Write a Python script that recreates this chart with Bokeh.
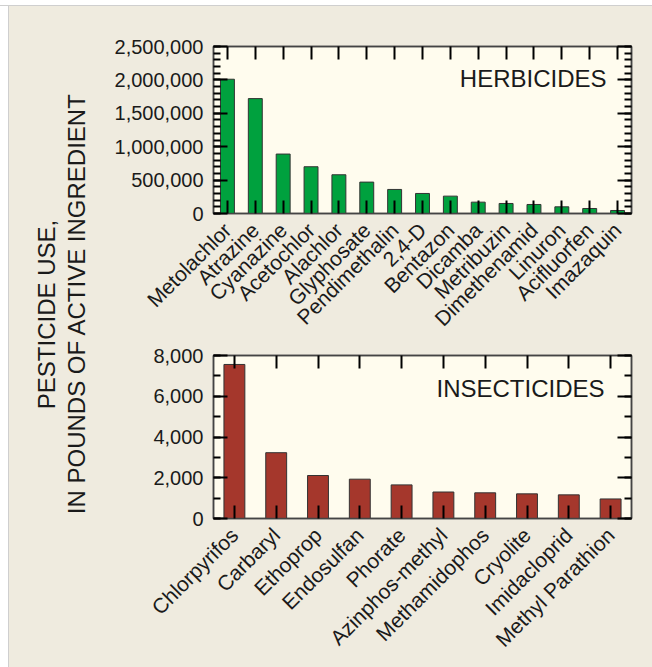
from math import pi
from bokeh.plotting import figure
from bokeh.models import (CategoricalAxis, LinearAxis, SingleIntervalTicker,
                          NumeralTickFormatter, Label, Range1d, FactorRange,
                          CustomJSTickFormatter, Spacer)
from bokeh.layouts import row, column
from bokeh.embed import file_html
from bokeh.resources import INLINE

# ---- data ----
herbicides = ["Metolachlor", "Atrazine", "Cyanazine", "Acetochlor", "Alachlor",
              "Glyphosate", "Pendimethalin", "2,4-D", "Bentazon", "Dicamba",
              "Metribuzin", "Dimethenamid", "Linuron", "Acifluorfen", "Imazaquin"]
herbicide_lbs = [2010000, 1720000, 890000, 700000, 580000, 470000, 360000,
                 300000, 260000, 170000, 150000, 135000, 100000, 75000, 45000]

insecticides = ["Chlorpyrifos", "Carbaryl", "Ethoprop", "Endosulfan", "Phorate",
                "Azinphos-methyl", "Methamidophos", "Cryolite", "Imidacloprid",
                "Methyl Parathion"]
insecticide_lbs = [7560, 3230, 2110, 1930, 1650, 1300, 1260, 1210, 1160, 960]

y_title_lines = ["PESTICIDE USE,", "IN POUNDS OF ACTIVE INGREDIENT"]

PAGE_BG = "#EFEBDF"
PLOT_BG = "#FFFCEE"
FONT = "Liberation Sans"
TXT = "#1a1a1a"
EDGE = "#444444"


def style_cat_axis(ax, show_labels):
    ax.major_tick_in = 13
    ax.major_tick_out = 0
    ax.minor_tick_line_color = None
    ax.major_tick_line_color = "black"
    ax.major_tick_line_width = 2
    ax.axis_line_color = EDGE
    ax.axis_line_width = 1.5
    if show_labels:
        ax.major_label_orientation = pi / 4
        ax.major_label_text_font = FONT
        ax.major_label_text_font_size = "21px"
        ax.major_label_text_color = TXT
        ax.major_label_standoff = 13
    else:
        ax.formatter = CustomJSTickFormatter(code="return ''")
        ax.major_label_text_font_size = "0px"
        ax.major_label_standoff = 0


def style_lin_axis(ax, ymax, interval, show_labels):
    ax.major_tick_in = 14
    ax.major_tick_out = 0
    ax.minor_tick_in = 7
    ax.minor_tick_out = 0
    ax.major_tick_line_color = "black"
    ax.major_tick_line_width = 2
    ax.minor_tick_line_color = "black"
    ax.minor_tick_line_width = 2
    ax.axis_line_color = EDGE
    ax.axis_line_width = 1.5
    if show_labels:
        ax.formatter = NumeralTickFormatter(format="0,0")
        ax.major_label_text_font = FONT
        ax.major_label_text_font_size = "20px"
        ax.major_label_text_color = TXT
        ax.major_label_standoff = 10
    else:
        ax.major_label_overrides = {float(v): "" for v in range(0, ymax + 1, interval)}
        ax.major_label_text_font_size = "0px"
        ax.major_label_standoff = 0


def make_chart(cats, vals, color, ymax, interval, nminor, title,
               width, height, left, right, top, bottom, tx, ty):
    p = figure(x_range=FactorRange(*cats), y_range=Range1d(0, ymax),
               width=width, height=height, min_border_left=left,
               min_border_right=right, min_border_top=top,
               min_border_bottom=bottom, toolbar_location=None,
               output_backend="svg", background_fill_color=PLOT_BG,
               border_fill_color=PAGE_BG, outline_line_color=EDGE,
               outline_line_width=1.5)
    p.xgrid.visible = False
    p.ygrid.visible = False
    p.vbar(x=cats, top=vals, width=0.5, fill_color=color,
           line_color="#333333", line_width=1)

    style_cat_axis(p.xaxis[0], True)
    top_ax = CategoricalAxis()
    style_cat_axis(top_ax, False)
    p.add_layout(top_ax, "above")

    p.yaxis[0].ticker = SingleIntervalTicker(interval=interval, num_minor_ticks=nminor)
    style_lin_axis(p.yaxis[0], ymax, interval, True)
    right_ax = LinearAxis(ticker=SingleIntervalTicker(interval=interval, num_minor_ticks=nminor))
    style_lin_axis(right_ax, ymax, interval, False)
    p.add_layout(right_ax, "right")

    p.add_layout(Label(x=tx, y=ty, x_units="screen", y_units="screen", text=title,
                       text_align="right", text_baseline="middle",
                       text_font=FONT, text_font_size="24px", text_color=TXT))
    return p


W = 542
H_ALL = 661
H1 = 337
top = make_chart(herbicides, herbicide_lbs, "#00A13E", 2500000, 500000, 5,
                 "HERBICIDES", W, H1, 101, W - 101 - 421, 40, H1 - 40 - 167, 393, 135)
H2 = H_ALL - H1
bot = make_chart(insecticides, insecticide_lbs, "#A5372C", 8000, 2000, 2,
                 "INSECTICIDES", W, H2, 103, W - 103 - 418, 12, H2 - 12 - 163, 391, 130)

ttl = figure(width=101, height=H_ALL, toolbar_location=None, output_backend="svg",
             min_border=0, outline_line_color=None, x_axis_location=None,
             y_axis_location=None, background_fill_color=PAGE_BG,
             border_fill_color=PAGE_BG, x_range=Range1d(0, 1), y_range=Range1d(0, 1))
ttl.grid.visible = False
for txt, sx, sy in zip(y_title_lines, [37, 67], [353, 364]):
    ttl.add_layout(Label(x=sx, y=sy, x_units="screen", y_units="screen", text=txt,
                         angle=pi / 2, text_align="center", text_baseline="middle",
                         text_font=FONT, text_font_size="24px", text_color=TXT))

# white page margin with a thin grey rule, as in the reference
top_white = Spacer(width=652, height=5, styles={"background-color": "#FFFFFF"})
top_rule = Spacer(width=652, height=1, styles={"background-color": "#CFCFCF"})
left_white = Spacer(width=8, height=H_ALL, styles={"background-color": "#FFFFFF"})
left_rule = Spacer(width=1, height=H_ALL, styles={"background-color": "#CFCFCF"})

charts = column(top, bot, styles={"background-color": PAGE_BG})
body = row(left_white, left_rule, ttl, charts, styles={"background-color": PAGE_BG})
layout = column(top_white, top_rule, body, styles={"background-color": "#FFFFFF"})
open("out.html", "w").write(file_html(layout, INLINE))
